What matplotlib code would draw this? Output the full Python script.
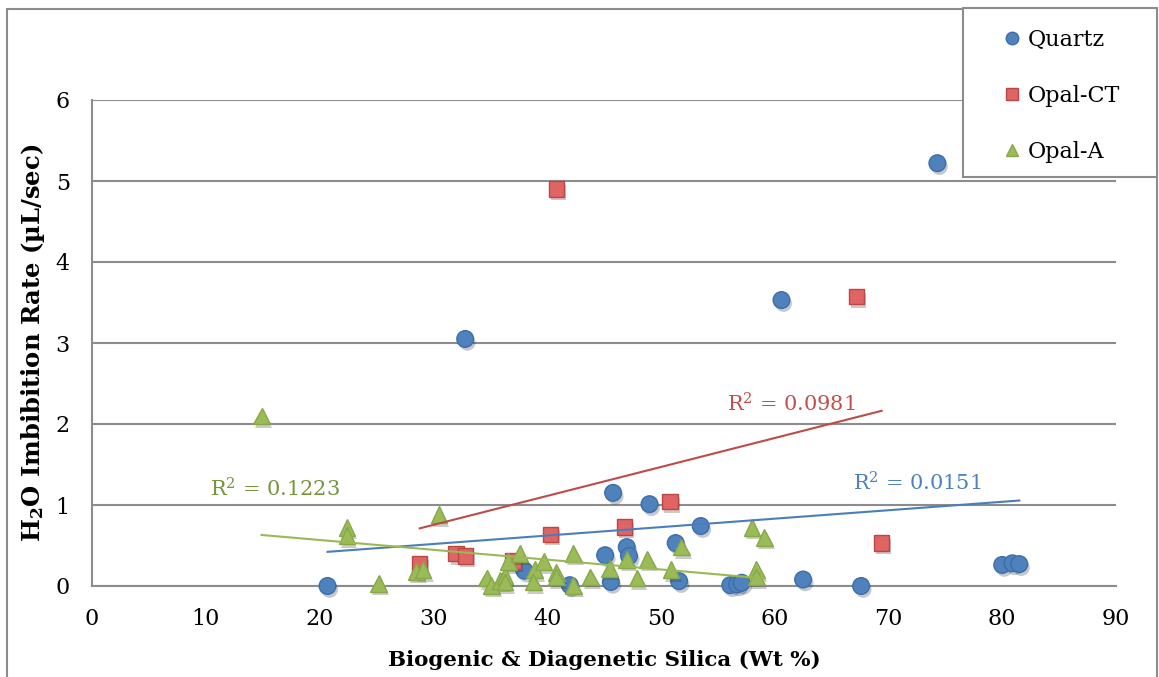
import numpy as np
import matplotlib
matplotlib.use("Agg")
import matplotlib.pyplot as plt
import matplotlib.patheffects as pe
from matplotlib.patches import Rectangle

# data
quartz_x = [20.7, 32.8, 74.3, 60.6, 45.8, 49.0, 53.5, 51.3, 47.0, 47.2, 45.1, 38.0,
            42.0, 45.6, 51.6, 56.1, 56.7, 57.1, 62.5, 67.6, 80.0, 80.9, 81.5]
quartz_y = [0.00, 3.05, 5.22, 3.53, 1.15, 1.01, 0.74, 0.53, 0.48, 0.37, 0.38, 0.19,
            0.01, 0.05, 0.06, 0.01, 0.02, 0.04, 0.08, 0.00, 0.26, 0.28, 0.27]

opalct_x = [40.8, 67.2, 50.8, 46.8, 40.3, 69.4, 28.8, 32.0, 32.8, 37.0]
opalct_y = [4.90, 3.57, 1.04, 0.73, 0.64, 0.53, 0.27, 0.40, 0.37, 0.31]

opala_x = [14.9, 22.4, 22.4, 25.2, 30.5, 28.5, 29.1, 34.7, 35.1, 35.9, 36.3, 36.3,
           36.6, 37.6, 38.9, 38.8, 39.7, 40.8, 40.8, 42.3, 42.3, 43.8, 45.5, 47.0,
           47.9, 48.8, 50.9, 51.8, 58.0, 59.1, 58.4, 58.4]
opala_y = [2.10, 0.72, 0.62, 0.03, 0.88, 0.18, 0.20, 0.10, 0.01, 0.07, 0.13, 0.05,
           0.30, 0.40, 0.20, 0.05, 0.30, 0.17, 0.11, 0.40, 0.01, 0.11, 0.22, 0.33,
           0.10, 0.33, 0.20, 0.48, 0.72, 0.60, 0.20, 0.11]

r2_labels = [r"R$^2$ = 0.0151", r"R$^2$ = 0.0981", r"R$^2$ = 0.1223"]

plt.rcParams['font.family'] = ['DejaVu Serif']
plt.rcParams['mathtext.fontset'] = 'dejavuserif'

W, H = 1159, 677
fig = plt.figure(figsize=(W / 100, H / 100), dpi=100)
ax = fig.add_axes([92/W, 1-586/H, (1116-92)/W, (586-100)/H])
ax.set_xlim(0, 90)
ax.set_ylim(0, 6)

grid_c = '#8c8c8c'
ax.set_yticks(range(0, 7))
ax.set_xticks(range(0, 91, 10))
ax.grid(axis='y', color=grid_c, lw=1.5)
ax.set_axisbelow(True)
for s in ['top', 'right']:
    ax.spines[s].set_visible(False)
for s in ['left', 'bottom']:
    ax.spines[s].set_color(grid_c)
    ax.spines[s].set_linewidth(1.5)
ax.tick_params(length=0, labelsize=16, pad=16)

shadow = [pe.SimplePatchShadow(offset=(1.5, -2.5), alpha=0.25), pe.Normal()]

series = [
    (quartz_x, quartz_y, 'o', 12, '#4F81BD', '#3C6EAA', '#4A7EBB', 'Quartz'),
    (opalct_x, opalct_y, 's', 11, '#E06464', '#B84846', '#BE4B48', 'Opal-CT'),
    (opala_x, opala_y, '^', 12, '#9BBB59', '#86A84A', '#98B954', 'Opal-A'),
]
handles = []
for xs, ys, m, ms, fc, ec, lc, name in series:
    h, = ax.plot(xs, ys, ls='none', marker=m, ms=ms, mfc=fc, mec=ec, mew=1.0,
                 clip_on=False, zorder=3, path_effects=shadow, label=name)
    handles.append(h)

# linear trendlines
for xs, ys, m, ms, fc, ec, lc, name in series:
    k, b = np.polyfit(xs, ys, 1)
    xx = np.array([min(xs), max(xs)])
    ax.plot(xx, k * xx + b, color=lc, lw=1.5, zorder=4)

ax.text(72.5, 1.27, r2_labels[0], color='#4F81BD', fontsize=15, ha='center', va='center')
ax.text(61.5, 2.25, r2_labels[1], color='#C0504D', fontsize=15, ha='center', va='center')
ax.text(16.1, 1.20, r2_labels[2], color='#77933C', fontsize=15, ha='center', va='center')

ax.set_xlabel('Biogenic & Diagenetic Silica (Wt %)', fontsize=15.4, fontweight='bold', labelpad=14)
ax.set_ylabel(r'$\mathbf{H_2O}$ Imbibition Rate (µL/sec)', fontsize=17.5, fontweight='bold', labelpad=6)

# outer chart border
fig.patches.append(Rectangle((7/W, -0.05), (1157-7)/W, 1.05 - 9/H,
                             transform=fig.transFigure, fill=False,
                             edgecolor=grid_c, lw=1.5, zorder=1))
# legend box
fig.patches.append(Rectangle((963/W, 1-177/H), (1157-963)/W, (177-8)/H,
                             transform=fig.transFigure, facecolor='white',
                             edgecolor=grid_c, lw=1.5, zorder=2))

leg_handles = []
for h in handles:
    leg_handles.append(plt.Line2D([], [], ls='none', marker=h.get_marker(), ms=9,
                                  mfc=h.get_mfc(), mec=h.get_mec()))
leg = fig.legend(leg_handles, [h.get_label() for h in handles],
                 loc='upper left', bbox_to_anchor=(1001/W, 1-29/H),
                 fontsize=16, frameon=False,
                 handlelength=1.0, handletextpad=0.2, labelspacing=1.53,
                 borderpad=0, borderaxespad=0)
leg.set_zorder(3)

fig.savefig('out.png', dpi=100)
